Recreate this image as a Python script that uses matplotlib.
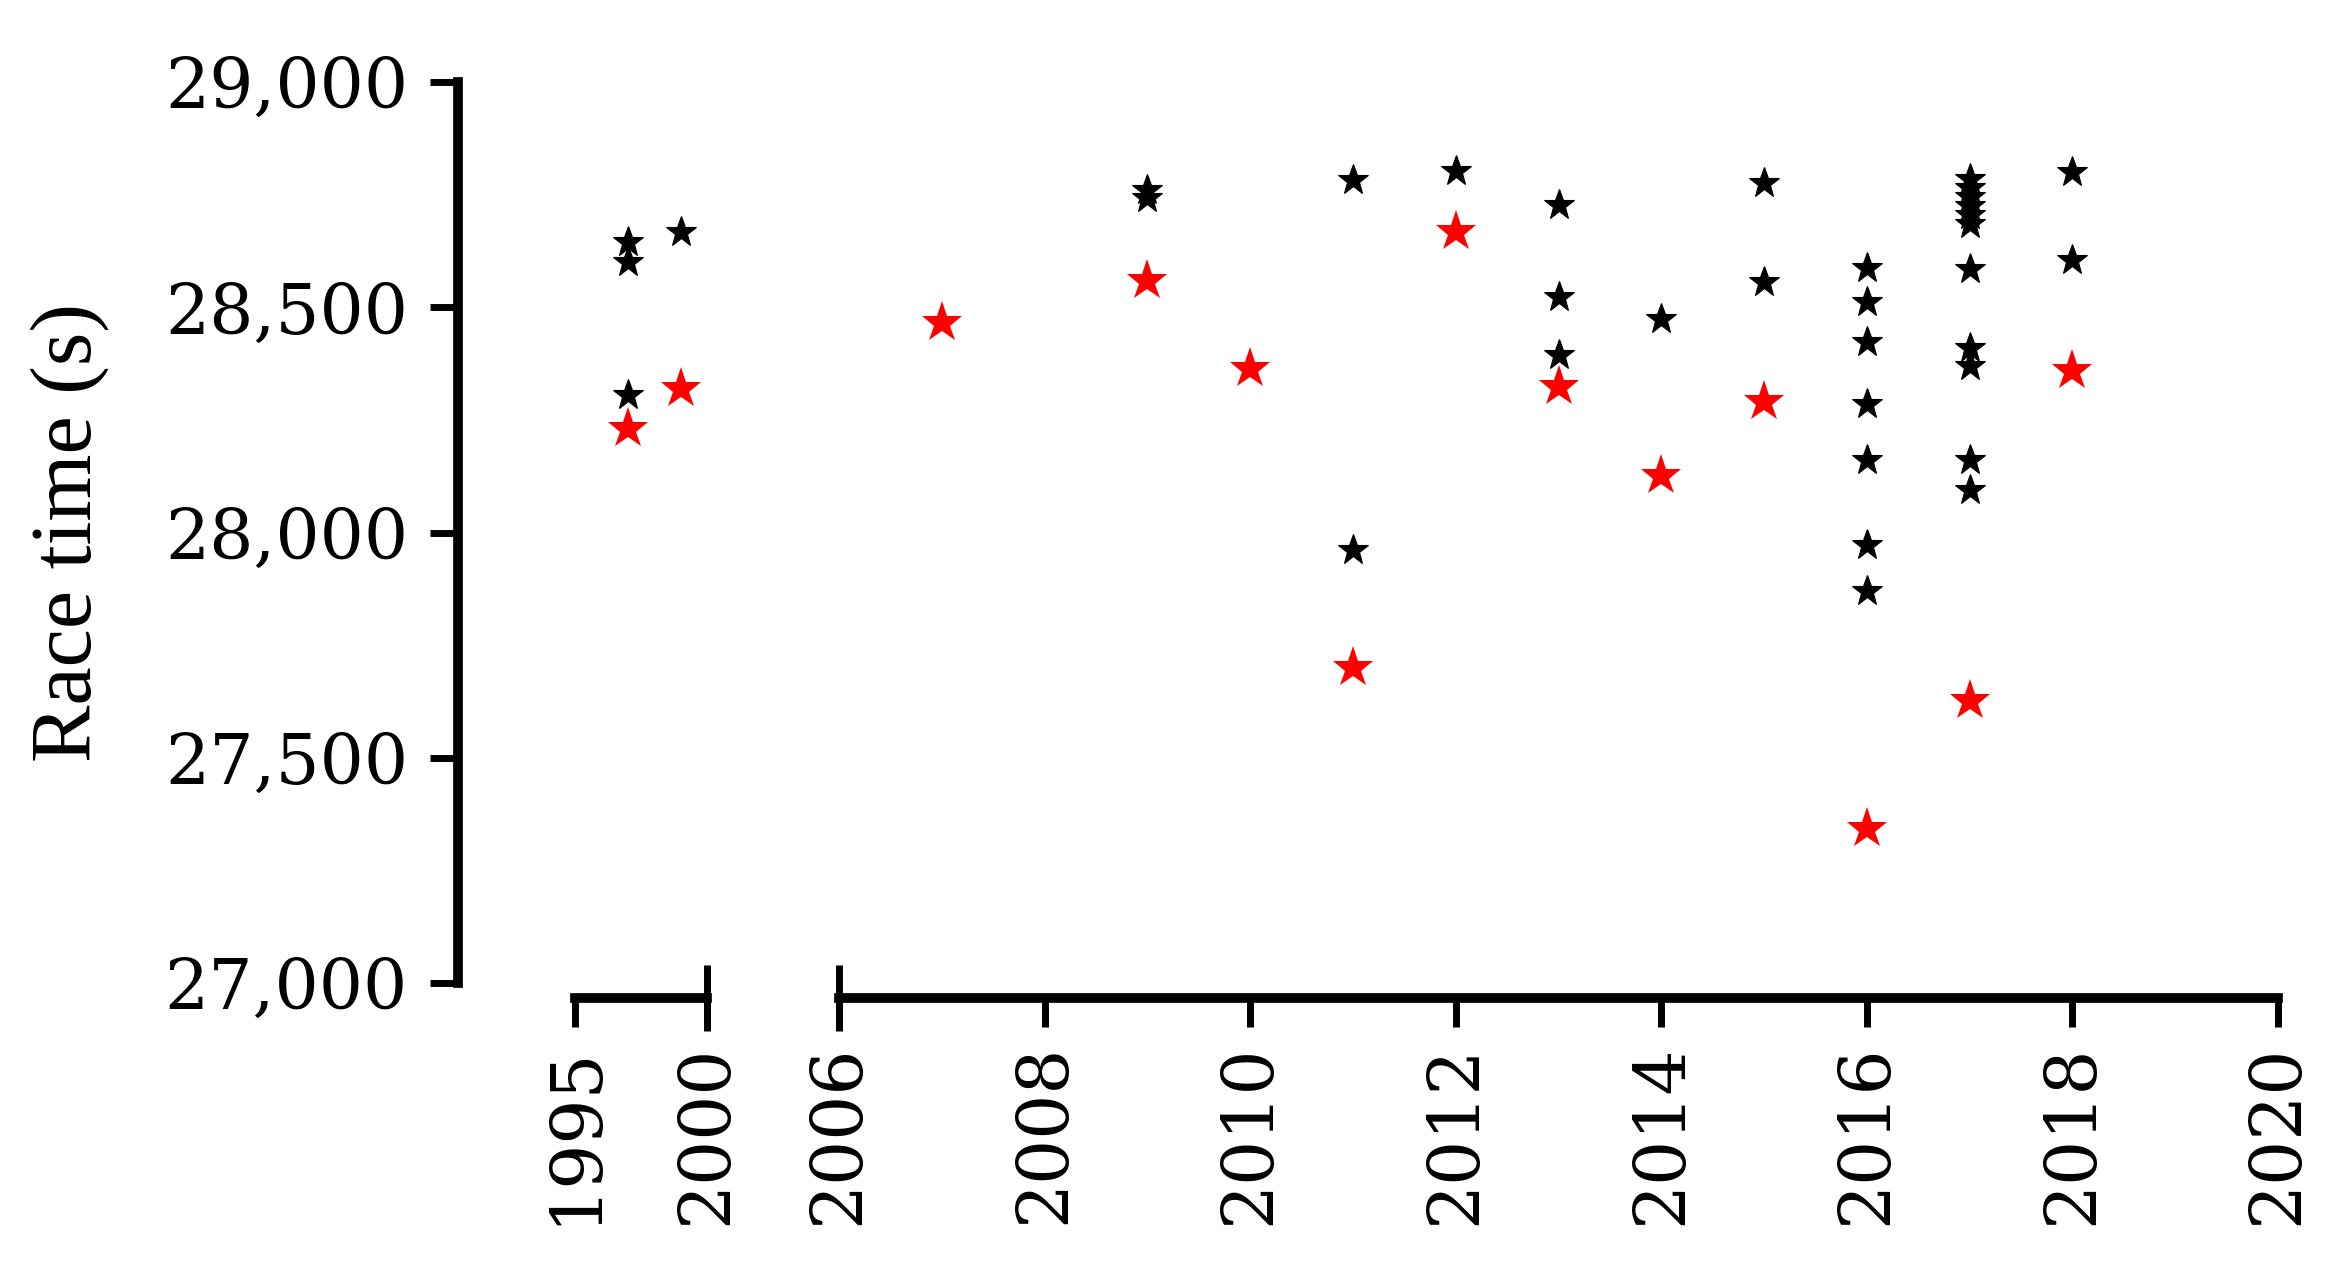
import numpy as np
import matplotlib.pyplot as plt
from matplotlib.ticker import FuncFormatter

# individual race times (black) and the winning / best time per year (red)
black_years = [1997, 1997, 1997,
               1999,
               2009, 2009,
               2011, 2011,
               2012,
               2013, 2013, 2013,
               2014,
               2015, 2015,
               2016, 2016, 2016, 2016, 2016, 2016, 2016,
               2017, 2017, 2017, 2017, 2017, 2017, 2017, 2017, 2017, 2017, 2017,
               2018, 2018]
black_times = [28645, 28600, 28305,
               28668,
               28760, 28742,
               28782, 27961,
               28802,
               28727, 28523, 28394,
               28474,
               28776, 28556,
               28587, 28512, 28423, 28285, 28161, 27972, 27870,
               28785, 28765, 28745, 28725, 28705, 28685, 28585, 28410, 28370, 28161, 28094,
               28800, 28605]

red_years = [1997, 1999, 2007, 2009, 2010, 2011, 2012, 2013, 2014, 2015, 2016, 2017, 2018]
red_times = [28229, 28318, 28465, 28559, 28362, 27700, 28667, 28323, 28125, 28290, 27342, 27626, 28358]

yticks = [27000, 27500, 28000, 28500, 29000]
xticks_left = [1995, 2000]
xticks_right = [2006, 2008, 2010, 2012, 2014, 2016, 2018, 2020]

plt.rcParams['font.family'] = 'DejaVu Serif'

fig = plt.figure(figsize=(23.46, 12.66), dpi=100)
W, H = 2346, 1266
bottom = 1 - 983 / H
height = (983 - 82) / H
ax1 = fig.add_axes([458 / W, bottom, (707 - 458) / W, height])
ax2 = fig.add_axes([839 / W, bottom, (2278 - 839) / W, height], sharey=ax1)

by = np.array(black_years)
bt = np.array(black_times)
ry = np.array(red_years)
rt = np.array(red_times)

for ax, left in ((ax1, True), (ax2, False)):
    mb = by < 2003 if left else by > 2003
    mr = ry < 2003 if left else ry > 2003
    ax.plot(by[mb], bt[mb], linestyle='none', marker='*', color='black',
            markersize=23, markeredgewidth=0.8, clip_on=False)
    ax.plot(ry[mr], rt[mr], linestyle='none', marker='*', color='red',
            markersize=31, markeredgewidth=0, clip_on=False)
    for s in ('top', 'right'):
        ax.spines[s].set_visible(False)
    ax.spines['bottom'].set_position(('outward', 11))
    ax.spines['bottom'].set_linewidth(7)
    ax.spines['left'].set_linewidth(7)
    ax.tick_params(axis='x', which='major', direction='out', length=21, width=5,
                   pad=12, labelsize=51, labelrotation=90)
    ax.tick_params(axis='x', which='minor', direction='inout', length=48, width=5)
    ax.xaxis.remove_overlapping_locs = False

ax1.set_ylim(27000, 29000)
ax1.set_yticks(yticks)
ax1.yaxis.set_major_formatter(FuncFormatter(lambda v, p: f'{int(v):,}'))
ax1.tick_params(axis='y', direction='out', length=20, width=5, pad=16, labelsize=50)
ax1.spines['left'].set_bounds(27000, 29000)

ax1.set_xlim(1990.55, 2000)
ax1.set_xticks(xticks_left)
ax1.set_xticks([2000], minor=True)
ax1.spines['bottom'].set_bounds(1995, 2000)

ax2.set_xlim(2006, 2020)
ax2.set_xticks(xticks_right)
ax2.set_xticks([2006], minor=True)
ax2.spines['left'].set_visible(False)
ax2.tick_params(axis='y', left=False, labelleft=False)

ax1.set_ylabel('Race time (s)', fontsize=62, family='Liberation Serif')
ax1.yaxis.set_label_coords(-1.40, 0.5)

fig.savefig('out.png', dpi=100)
